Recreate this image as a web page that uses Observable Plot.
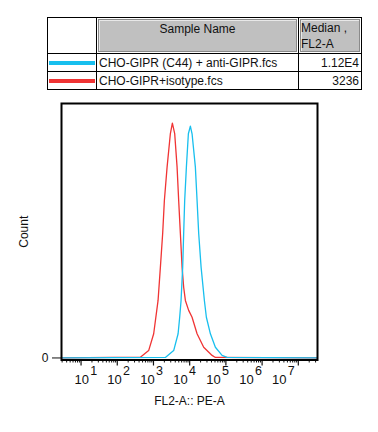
<!DOCTYPE html>
<html><head><meta charset="utf-8">
<script src="https://cdn.jsdelivr.net/npm/d3@7"></script>
<script src="https://cdn.jsdelivr.net/npm/@observablehq/plot@0.6"></script>
<style>
body{margin:0;background:#fff;font-family:"Liberation Sans",Arial,sans-serif;}
#wrap{position:relative;width:378px;height:432px;overflow:hidden;}
table{position:absolute;left:47px;top:17px;border-collapse:collapse;font-size:12px;color:#111;}
td{border:1.5px solid #000;padding:0;white-space:nowrap;}
.hdr{background:#c0c0c0;border:1px solid #8a8a8a;box-shadow:inset 1px 1px 0 #e8e8e8;height:31px;margin:1px;}
.sw{height:4px;margin:0 1px;}
#chart{position:absolute;left:0;top:90px;}
</style></head>
<body><div id="wrap"><div id="tbl"></div><div id="chart"></div></div>
<script>
// Sample names and medians (legend table)
const samples = ["CHO-GIPR (C44) + anti-GIPR.fcs", "CHO-GIPR+isotype.fcs"];
const medians = ["1.12E4", "3236"];
const colors = ["#18bfee", "#f03434"];

// Histogram traces: x as log10(FL2-A), y as % of axis max
const blueLog = [0.46, 3.329, 3.558, 3.680, 3.724, 3.762, 3.807, 3.834, 3.862, 3.909, 3.964, 4.019, 4.066, 4.157, 4.204, 4.249, 4.315, 4.406, 4.461, 4.572, 4.710, 4.895, 5.033, 7.53];
const blueCount = [0, 0.2, 2.9, 9.5, 16.0, 22.6, 35.7, 48.9, 61.9, 75.0, 88.1, 91.1, 88.1, 75.0, 61.9, 48.9, 35.7, 22.6, 16.0, 9.5, 4.2, 1.0, 0.2, 0];
const redLog = [0.46, 2.638, 2.867, 3.006, 3.127, 3.191, 3.254, 3.301, 3.376, 3.467, 3.522, 3.586, 3.652, 3.696, 3.743, 3.790, 3.834, 3.881, 3.972, 4.066, 4.204, 4.387, 4.619, 4.710, 7.53];
const redCount = [0, 0.3, 2.9, 9.5, 22.6, 35.7, 48.9, 61.9, 75.0, 88.2, 92.3, 88.2, 75.0, 61.9, 48.9, 35.7, 27.8, 22.6, 18.7, 16.0, 9.5, 4.2, 1.0, 0.2, 0];

// Axis decades
const decades = [1, 2, 3, 4, 5, 6, 7];

// ---- table ----
const t = document.createElement("table");
t.innerHTML = `
<tr style="height:35px"><td style="width:48px"></td>
<td style="width:201px;vertical-align:top"><div class="hdr" style="text-align:center;padding-top:2px;height:29px">Sample Name</div></td>
<td style="width:62px;vertical-align:top"><div class="hdr" style="line-height:16px">Median ,<br>FL2-A</div></td></tr>
${samples.map((s,i)=>`<tr style="height:18px"><td><div class="sw" style="background:${colors[i]}"></div></td>
<td style="padding-left:2px">${s}</td><td style="text-align:right;padding-right:2px">${medians[i]}</td></tr>`).join("")}`;
document.getElementById("tbl").appendChild(t);

// ---- histogram ----
const rows = [];
redLog.forEach((l,i)=>rows.push({s:"red", x:10**l, y:redCount[i]}));
blueLog.forEach((l,i)=>rows.push({s:"blue", x:10**l, y:blueCount[i]}));

const minor = [];
for (let e = 0; e <= 7; e++) for (let k = 2; k <= 9; k++) {
  const v = k * 10**e; if (v >= 10**0.46 && v <= 10**7.53) minor.push(v);
}
const majors = decades.map(n => 10**n);
const lab = decades.map(n => ({n, x: 10**(0.106 + 0.910*n)}));

const plot = Plot.plot({
  width: 378, height: 342,
  marginTop: 13, marginBottom: 72.5, marginLeft: 61, marginRight: 61,
  style: {fontFamily: '"Liberation Sans", Arial, sans-serif', fontSize: "12px", color: "#111"},
  x: {type: "log", domain: [10**0.46, 10**7.53]},
  y: {domain: [-0.8, 100]},
  marks: [
    Plot.axisX({ticks: minor, tickSize: 3, tickFormat: () => "", strokeWidth: 1, label: null}),
    Plot.axisX({ticks: majors, tickSize: 6, tickFormat: () => "", strokeWidth: 1.2, label: null}),
    Plot.axisY({ticks: [0], tickSize: 9, tickPadding: 4, tickFormat: d => "0", label: "Count", labelAnchor: "center", labelArrow: "none", labelOffset: 42}),
    Plot.line(rows.filter(d=>d.s==="red"), {x: "x", y: "y", stroke: colors[1], strokeWidth: 1.3}),
    Plot.line(rows.filter(d=>d.s==="blue"), {x: "x", y: "y", stroke: colors[0], strokeWidth: 1.3}),
    Plot.frame({stroke: "#000", strokeWidth: 2}),
    Plot.text(lab, {x: "x", text: () => "10", frameAnchor: "bottom", dy: 24, fontSize: 13}),
    Plot.text(lab, {x: "x", text: d => String(d.n), frameAnchor: "bottom", dy: 15, dx: 12, fontSize: 12.5}),
    Plot.text(["FL2-A:: PE-A"], {frameAnchor: "bottom", dy: 45, fontSize: 12})
  ]
});
document.getElementById("chart").appendChild(plot);
</script></body></html>
